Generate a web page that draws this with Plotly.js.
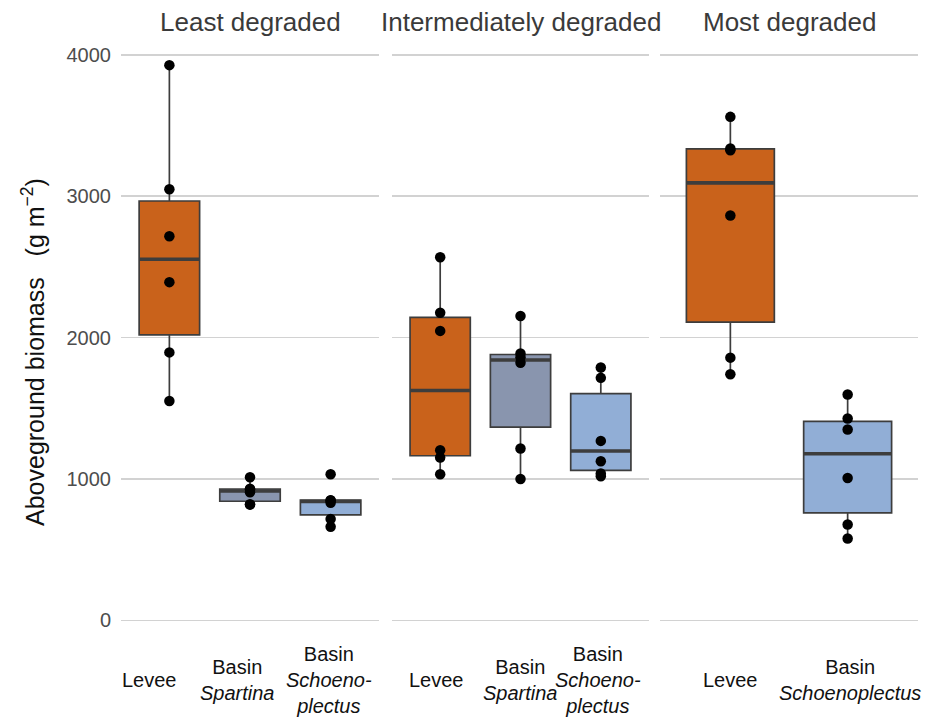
<!DOCTYPE html>
<html><head><meta charset="utf-8">
<script src="https://cdn.plot.ly/plotly-3.0.1.min.js"></script>
<style>html,body{margin:0;padding:0;background:#fff}#chart{width:928px;height:720px}</style>
</head><body><div id="chart"></div>
<script>
// ---------- data ----------
const panelTitles = ["Least degraded", "Intermediately degraded", "Most degraded"];

const habitatsLeast = ["Levee", "Spartina", "Schoeno"];
const habitatsInter = ["Levee", "Spartina", "Schoeno"];
const habitatsMost  = ["Levee", "Schoeno"];

const labelsLeast = ["Levee", "Basin<br><i>Spartina</i>", "Basin<br><i>Schoeno-</i><br><i>plectus</i>"];
const labelsInter = ["Levee", "Basin<br><i>Spartina</i>", "Basin<br><i>Schoeno-</i><br><i>plectus</i>"];
const labelsMost  = ["Levee", "Basin<br><i>Schoenoplectus</i>"];

// Aboveground biomass (g m^-2)
const leveeLeast    = [1551, 1895, 2392, 2716, 3049, 3927];
const spartinaLeast = [818, 821, 905, 925, 930, 1012];
const schoenoLeast  = [662, 716, 832, 848, 850, 1033];

const leveeInter    = [1033, 1151, 1203, 2047, 2175, 2568];
const spartinaInter = [1000, 1215, 1822, 1860, 1887, 2153];
const schoenoInter  = [1019, 1038, 1125, 1269, 1715, 1788];

const leveeMost     = [1741, 1858, 2863, 3325, 3337, 3561];
const schoenoMost   = [578, 677, 1007, 1349, 1427, 1597];

const yTicks = [0, 1000, 2000, 3000, 4000];

// ---------- styling ----------
const fillColors = {Levee: "#C9621B", Spartina: "#8995AE", Schoeno: "#91AED6"};
const FONT = "Liberation Sans, Arial, Helvetica, sans-serif";
const labelShift = [[-20, -13, -2], [-4, 0, -3], [0, 2]];
const xDomains = [[121/928, 379/928], [392/928, 649/928], [660/928, 918/928]];
const PLOT_TOP = 37, PLOT_BOTTOM = 648;
const pxToPaperY = py => (PLOT_BOTTOM - py) / (PLOT_BOTTOM - PLOT_TOP);

const panelSeries = [
  [leveeLeast, spartinaLeast, schoenoLeast],
  [leveeInter, spartinaInter, schoenoInter],
  [leveeMost, schoenoMost]
];
const panelHabitats = [habitatsLeast, habitatsInter, habitatsMost];
const panelLabels = [labelsLeast, labelsInter, labelsMost];

// type-7 quantile (as ggplot/R default)
function quantile(sorted, p) {
  const h = (sorted.length - 1) * p;
  const lo = Math.floor(h);
  const hi = Math.min(lo + 1, sorted.length - 1);
  return sorted[lo] + (h - lo) * (sorted[hi] - sorted[lo]);
}
function boxStats(values) {
  const s = values.slice().sort((a, b) => a - b);
  const q1 = quantile(s, 0.25), med = quantile(s, 0.5), q3 = quantile(s, 0.75);
  const iqr = q3 - q1;
  const lf = Math.min(...s.filter(v => v >= q1 - 1.5 * iqr));
  const uf = Math.max(...s.filter(v => v <= q3 + 1.5 * iqr));
  return {q1, med, q3, lf, uf};
}

const traces = [];
const annotations = [];
const layout = {
  width: 928, height: 720,
  margin: {l: 0, r: 0, t: PLOT_TOP, b: 720 - PLOT_BOTTOM, pad: 0},
  paper_bgcolor: "#fff", plot_bgcolor: "#fff",
  showlegend: false,
  font: {family: FONT, color: "#000"},
  yaxis: {
    domain: [0, 1], range: [-196, 4126], anchor: "x",
    tickvals: yTicks, ticktext: yTicks.map(String),
    showgrid: true, gridcolor: "#d2d2d2", gridwidth: 1.5,
    zeroline: false, showline: false, ticks: "", ticklabelstandoff: 9,
    tickfont: {family: FONT, size: 20, color: "#4d4d4d"}, fixedrange: true
  }
};

panelSeries.forEach((seriesList, i) => {
  const s = i === 0 ? "" : String(i + 1);
  const n = seriesList.length;
  layout["xaxis" + s] = {
    domain: xDomains[i], range: [0.4, n + 0.6], anchor: "y",
    showgrid: false, zeroline: false, showline: false, showticklabels: false,
    ticks: "", fixedrange: true
  };
  seriesList.forEach((vals, j) => {
    const st = boxStats(vals);
    const hab = panelHabitats[i][j];
    traces.push({
      type: "box", xaxis: "x" + s, yaxis: "y",
      x: [j + 1], q1: [st.q1], median: [st.med], q3: [st.q3],
      lowerfence: [st.lf], upperfence: [st.uf],
      width: 0.75, whiskerwidth: 0, boxpoints: false,
      fillcolor: fillColors[hab], line: {color: "#3d3d3d", width: 1.7},
      hoverinfo: "skip"
    });
    // thicker median bar
    traces.push({
      type: "box", xaxis: "x" + s, yaxis: "y",
      x: [j + 1], q1: [st.med], median: [st.med], q3: [st.med],
      lowerfence: [st.med], upperfence: [st.med],
      width: 0.75, whiskerwidth: 0, boxpoints: false,
      fillcolor: "rgba(0,0,0,0)", line: {color: "#3d3d3d", width: 3.6},
      hoverinfo: "skip"
    });
    traces.push({
      type: "scatter", mode: "markers", xaxis: "x" + s, yaxis: "y",
      x: vals.map(() => j + 1), y: vals,
      marker: {color: "#000", size: 10.5}, hoverinfo: "skip", cliponaxis: false
    });
    annotations.push({
      xref: "x" + s, yref: "paper", x: j + 1, y: pxToPaperY(680),
      xanchor: "center", yanchor: "middle", align: "center",
      xshift: labelShift[i][j],
      text: panelLabels[i][j], showarrow: false,
      font: {family: FONT, size: 20, color: "#111"}
    });
  });
  annotations.push({
    xref: "x" + s, yref: "paper", x: (n + 1) / 2, y: pxToPaperY(22),
    xanchor: "center", yanchor: "middle", text: panelTitles[i], showarrow: false,
    font: {family: FONT, size: 26, color: "#3a3a3a"}
  });
});

annotations.push({
  xref: "paper", yref: "paper", x: 33 / 928, y: pxToPaperY(352),
  xanchor: "center", yanchor: "middle", textangle: -90, showarrow: false,
  text: "Aboveground biomass&nbsp;&nbsp; (g m<sup>\u22122</sup>)",
  font: {family: FONT, size: 25, color: "#111"}
});
layout.annotations = annotations;

Plotly.newPlot("chart", traces, layout, {displayModeBar: false, staticPlot: true});
</script>
</body></html>
